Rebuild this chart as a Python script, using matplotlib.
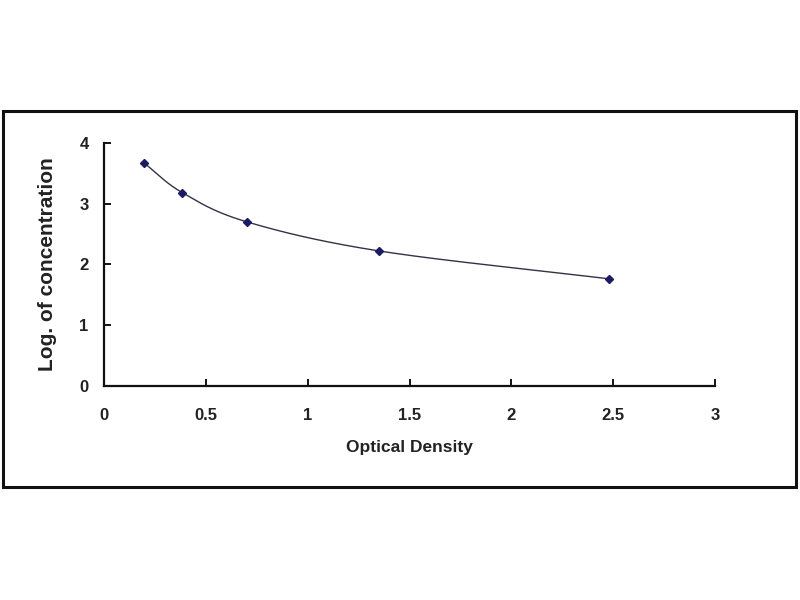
import numpy as np
import matplotlib
matplotlib.use("Agg")
import matplotlib.pyplot as plt
from matplotlib.patches import Rectangle

# standard curve readings
optical_density = [0.196, 0.384, 0.70, 1.35, 2.48]
log_concentration = [3.67, 3.18, 2.70, 2.22, 1.76]
x_ticks = [0, 0.5, 1, 1.5, 2, 2.5, 3]
x_tick_labels = ["0", "0.5", "1", "1.5", "2", "2.5", "3"]
y_ticks = [0, 1, 2, 3, 4]


def smooth_curve(xs, ys, steps=40):
    # catmull-rom style smoothing, like the spreadsheet "smoothed line"
    xs = np.asarray(xs, float)
    ys = np.asarray(ys, float)
    px = np.concatenate([[2 * xs[0] - xs[1]], xs, [2 * xs[-1] - xs[-2]]])
    py = np.concatenate([[2 * ys[0] - ys[1]], ys, [2 * ys[-1] - ys[-2]]])
    out_x, out_y = [], []
    t = np.linspace(0, 1, steps)
    for i in range(1, len(px) - 2):
        for p, out in ((px, out_x), (py, out_y)):
            p0, p1, p2, p3 = p[i - 1], p[i], p[i + 1], p[i + 2]
            out.extend(0.5 * ((2 * p1) + (-p0 + p2) * t
                              + (2 * p0 - 5 * p1 + 4 * p2 - p3) * t ** 2
                              + (-p0 + 3 * p1 - 3 * p2 + p3) * t ** 3))
    return out_x, out_y


plt.rcParams["font.family"] = ["Liberation Sans", "DejaVu Sans"]

fig = plt.figure(figsize=(8, 6), dpi=100)
fig.patches.append(Rectangle((0.004, 0.188), 0.991, 0.627, transform=fig.transFigure,
                             fill=False, edgecolor="#111111", linewidth=2.2))

ax = fig.add_axes([0.13, 0.357, 0.764, 0.405])
cx, cy = smooth_curve(optical_density, log_concentration)
ax.plot(cx, cy, color="#333344", linewidth=1.0)
ax.plot(optical_density, log_concentration, linestyle="none", marker="D",
        markersize=4.5, color="#1a1a66")

ax.set_xlim(0, 3)
ax.set_ylim(0, 4)
ax.set_xticks(x_ticks)
ax.set_xticklabels(x_tick_labels)
ax.set_yticks(y_ticks)
ax.spines["top"].set_visible(False)
ax.spines["right"].set_visible(False)
for s in ("left", "bottom"):
    ax.spines[s].set_linewidth(1.6)
    ax.spines[s].set_color("#111111")
ax.tick_params(direction="in", length=5, width=1.3, labelsize=12)
ax.tick_params(axis="x", pad=16)
ax.tick_params(axis="y", pad=11)
for lbl in ax.get_xticklabels() + ax.get_yticklabels():
    lbl.set_fontweight("bold")
    lbl.set_color("#222222")

ax.set_xlabel("Optical Density", fontsize=12.5, fontweight="bold", color="#222222", labelpad=12)
ax.set_ylabel("Log. of concentration", fontsize=15, fontweight="bold", color="#222222", labelpad=16)

fig.savefig("out.png", dpi=100)
